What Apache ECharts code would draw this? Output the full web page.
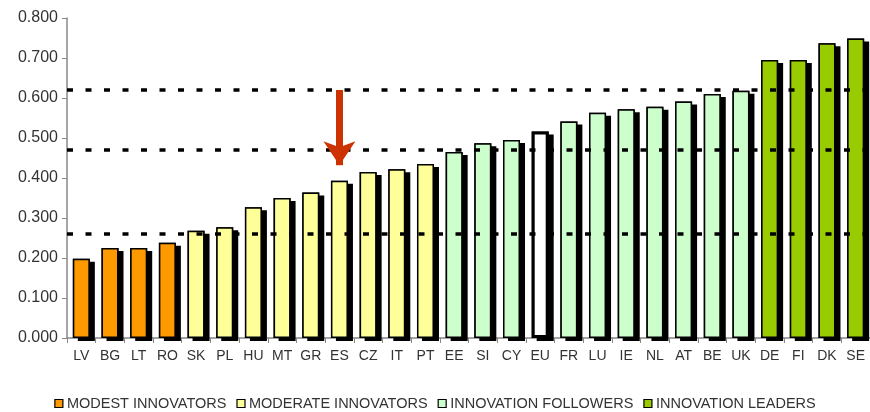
<!DOCTYPE html>
<html><head><meta charset="utf-8">
<script src="https://cdn.jsdelivr.net/npm/echarts@6/dist/echarts.min.js"></script>
<style>html,body{margin:0;padding:0;background:#fff}#c{width:870px;height:412px}</style>
</head><body><div id="c"></div>
<script>
const categories = ['LV','BG','LT','RO','SK','PL','HU','MT','GR','ES','CZ','IT','PT','EE','SI','CY','EU','FR','LU','IE','NL','AT','BE','UK','DE','FI','DK','SE'];
const values = [0.198,0.225,0.225,0.238,0.268,0.277,0.327,0.350,0.364,0.393,0.415,0.422,0.435,0.465,0.487,0.495,0.516,0.541,0.563,0.572,0.578,0.591,0.610,0.618,0.695,0.695,0.737,0.749];
const groups = ['M','M','M','M','D','D','D','D','D','D','D','D','D','F','F','F','EU','F','F','F','F','F','F','F','L','L','L','L'];
const groupNames = {M:'MODEST INNOVATORS', D:'MODERATE INNOVATORS', F:'INNOVATION FOLLOWERS', L:'INNOVATION LEADERS', EU:'EU'};
const groupColors = {M:'#FF9900', D:'#FFFF99', F:'#CCFFCC', L:'#99CC00', EU:'#FFFFFF'};
const thresholds = [0.258, 0.465, 0.620];
const arrowCategory = 'ES';
const arrowFrom = 0.620, arrowTo = 0.432;
const yTicks = {min:0, max:0.8, interval:0.1};

const series = [];
// black drop shadow behind every bar
series.push({
  name:'shadow', type:'bar', barWidth:17, barGap:'-100%', silent:true, z:1,
  data: values.slice(),
  itemStyle:{color:'#000', shadowColor:'#000', shadowBlur:0, shadowOffsetX:5, shadowOffsetY:3},
  emphasis:{disabled:true}
});
['M','D','F','L','EU'].forEach(g=>{
  series.push({
    name: groupNames[g], type:'bar', barWidth:17, barGap:'-100%', z:2,
    data: values.map((v,i)=> groups[i]===g ? v : '-'),
    itemStyle:{color:groupColors[g], borderColor:'#000', borderWidth: g==='EU'?3:1.5},
    emphasis:{disabled:true}
  });
});
series.push({
  type:'line', data:[], z:10, silent:true,
  markLine:{silent:true, symbol:['none','none'], label:{show:false},
    lineStyle:{color:'#000', type:[6,12.5], width:3.5},
    data: thresholds.map(t=>({yAxis:t}))}
});
series.push({
  type:'line', data:[], z:11, silent:true,
  markLine:{silent:true, symbol:['none','arrow'], symbolSize:[24,24], label:{show:false},
    lineStyle:{color:'#CC3300', type:'solid', width:7},
    itemStyle:{color:'#CC3300'},
    data:[[{coord:[arrowCategory, arrowFrom]},{coord:[arrowCategory, arrowTo]}]]}
});

const chart = echarts.init(document.getElementById('c'));
chart.setOption({
  animation:false,
  grid:{left:67, top:18, width:805, bottom:74, containLabel:false},
  legend:{
    bottom:1, left:'center', padding:0, itemWidth:8, itemHeight:8, itemGap:10, icon:'rect',
    data:['MODEST INNOVATORS','MODERATE INNOVATORS','INNOVATION FOLLOWERS','INNOVATION LEADERS'],
    textStyle:{fontSize:14.5, color:'#333', fontFamily:'Liberation Sans', padding:[0,0,0,-1]},
    itemStyle:{borderColor:'#000', borderWidth:1.2, shadowColor:'transparent', shadowOffsetX:0, shadowOffsetY:0}
  },
  xAxis:{type:'category', data:categories, boundaryGap:true,
    axisLine:{lineStyle:{color:'#888', width:1.5}},
    axisTick:{show:true, length:5, lineStyle:{color:'#888'}},
    axisLabel:{fontSize:14, color:'#333', margin:11, fontFamily:'Liberation Sans', interval:0}},
  yAxis:{type:'value', min:yTicks.min, max:yTicks.max, interval:yTicks.interval,
    splitLine:{show:false},
    axisLine:{show:true, lineStyle:{color:'#888', width:1.5}},
    axisTick:{show:true, length:5, lineStyle:{color:'#888'}},
    axisLabel:{fontSize:16, color:'#333', margin:9, fontFamily:'Liberation Sans', formatter:v=>v.toFixed(3)}},
  series
});
</script></body></html>
